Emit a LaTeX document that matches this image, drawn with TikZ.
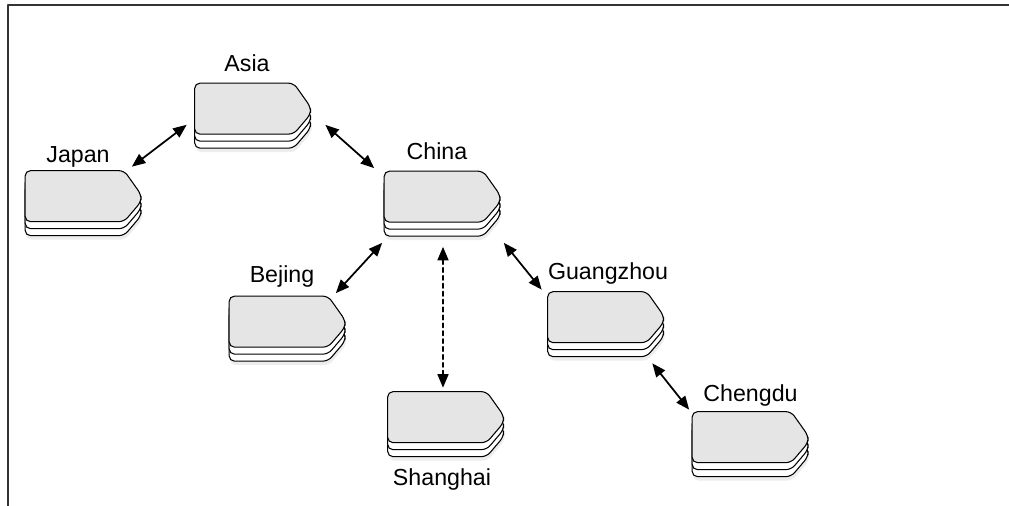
\documentclass[tikz,border=0pt]{standalone}
\usepackage{fontspec}
\setmainfont{Liberation Sans}
\usetikzlibrary{positioning,arrows.meta}
\begin{document}
\begin{tikzpicture}[x=0.02cm, y=-0.02cm, line cap = round, line join = round,
	card/.style={minimum width=2.32cm, minimum height=1.02cm, inner sep=0pt},
	lbl/.style={font=\fontsize{13.2}{16}\selectfont, inner sep=0pt, text depth=0pt},
	link/.style={{Triangle[length=0.27cm,width=0.22cm]}-{Triangle[length=0.27cm,width=0.22cm]}, line width=1pt},
	face/.style={draw, line width=0.6pt, fill=gray!20, rounded corners=3pt},
	layer/.style={draw, line width=0.6pt, fill=white, rounded corners=3pt}]
		\useasboundingbox (0,0) rectangle (1009,506);
		\draw [line width=1.2pt, black!80] (1009,5)--(8,5)--(8,506);
		% the stacks
		\node[card] (asia) at (253,109) {};
		\node[card] (japan) at (83.5,196.5) {};
		\node[card] (china) at (442.5,197) {};
		\node[card] (bejing) at (287.5,322) {};
		\node[card] (guangzhou) at (606,317.5) {};
		\node[card] (shanghai) at (446,417.5) {};
		\node[card] (chengdu) at (750.5,437.5) {};
		\foreach \n in {asia,japan,china,bejing,guangzhou,shanghai,chengdu}{
			\begin{scope}[shift={(\n.north west)}]
				\fill [black!7, rounded corners=3pt] (1,18)--(100,18)--(117,42)--(117,49)--(100,69)--(1,69)--cycle;
				\foreach \d in {14,7}
					\draw [layer] (0,\d)--(99,\d)--(116,{24+\d})--(116,{31+\d})--(99,{51+\d})--(0,{51+\d})--cycle;
				\draw [face] (0,0)--(99,0)--(116,24)--(116,31)--(99,51)--(0,51)--cycle;
			\end{scope}
		}
		% labels
		\node[lbl, above=0.22cm of asia, xshift=-0.12cm] (asia-l) {Asia};
		\node[lbl, above=0.16cm of japan, xshift=-0.11cm] (japan-l) {Japan};
		\node[lbl, above=0.22cm of china, xshift=-0.11cm] (china-l) {China};
		\node[lbl, above=0.26cm of bejing, xshift=-0.11cm] (bejing-l) {Bejing};
		\node[lbl, above=0.24cm of guangzhou, xshift=0.04cm] (guangzhou-l) {Guangzhou};
		\node[lbl, above=0.2cm of chengdu] (chengdu-l) {Chengdu};
		\node[lbl, below=0.5cm of shanghai, xshift=-0.08cm, anchor=north] (shanghai-l) {Shanghai};
		% links
		\draw [link] ([shift={(-10,-4)}]japan.north east)--([shift={(-8,-10)}]asia.south west);
		\draw [link] ([shift={(14,-10)}]asia.south east)--([shift={(-10,-3)}]china.north west);
		\draw [link] ([shift={(-2,20)}]china.south west)--([shift={(-10,-3)}]bejing.north east);
		\draw [link] ([shift={(3,20)}]china.south east)--([shift={(-6,-2)}]guangzhou.north west);
		\draw [link] ([shift={(-12,20)}]guangzhou.south east)--([shift={(-3,-2)}]chengdu.north west);
		\draw [link, dash pattern=on 2.5pt off 2pt] ([shift={(0.5,24)}]china.south)--([shift={(-3,-4)}]shanghai.north);
\end{tikzpicture}
\end{document}
